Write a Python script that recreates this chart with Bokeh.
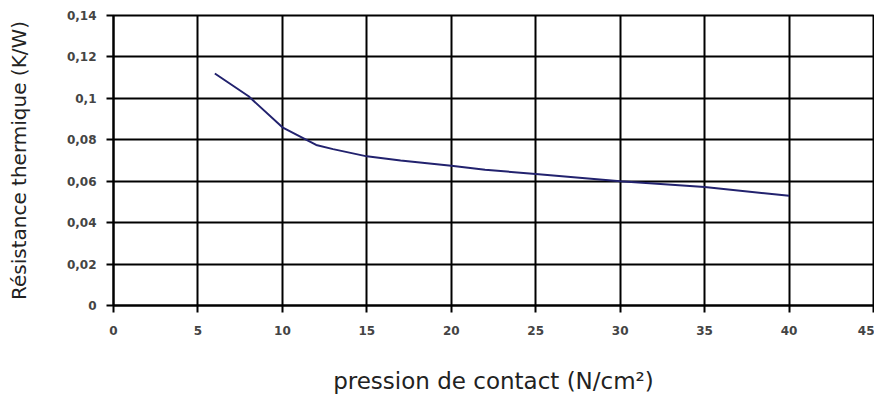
from bokeh.plotting import figure
from bokeh.embed import file_html
from bokeh.resources import INLINE
from bokeh.models import FixedTicker, CustomJSTickFormatter, Range1d

pression = [6, 8, 10, 12, 13, 15, 17, 20, 22, 25, 30, 35, 40]
resistance = [0.112, 0.101, 0.086, 0.0775, 0.0755, 0.0720, 0.0700, 0.0675, 0.0655, 0.0635, 0.0600, 0.0572, 0.0530]
x_ticks = [0, 5, 10, 15, 20, 25, 30, 35, 40, 45]
y_ticks = [0, 0.02, 0.04, 0.06, 0.08, 0.10, 0.12, 0.14]

p = figure(width=874, height=396, output_backend="svg", toolbar_location=None,
           x_range=Range1d(0, 45), y_range=Range1d(0, 0.14),
           min_border_left=113, min_border_right=1, min_border_top=15, min_border_bottom=89)

p.line(pression, resistance, line_color="#22226e", line_width=2)

fmt = CustomJSTickFormatter(code="return String(Math.round(tick*100)/100).replace('.', ',');")
for ax, ticks in ((p.xaxis, x_ticks), (p.yaxis, y_ticks)):
    ax.ticker = FixedTicker(ticks=ticks)
    ax.formatter = fmt
    ax.major_tick_in = 0
    ax.major_tick_out = 7
    ax.minor_tick_line_color = None
    ax.major_tick_line_color = "black"
    ax.major_tick_line_width = 2
    ax.axis_line_color = "black"
    ax.axis_line_width = 2
    ax.major_label_text_font = "DejaVu Sans"
    ax.major_label_text_font_style = "bold"
    ax.major_label_text_font_size = "12px"
    ax.major_label_text_color = "#444444"
    ax.axis_label_text_font = "DejaVu Sans"
    ax.axis_label_text_font_style = "normal"
    ax.axis_label_text_color = "#222222"

p.xaxis.axis_label_text_font_size = "23px"
p.yaxis.axis_label_text_font_size = "20px"
p.xaxis.major_label_standoff = 13
p.yaxis.major_label_standoff = 10
p.xaxis.axis_label = "pression de contact (N/cm²)"
p.yaxis.axis_label = "Résistance thermique (K/W)"
p.xaxis.axis_label_standoff = 30
p.yaxis.axis_label_standoff = 33

for g, ticks in ((p.xgrid, x_ticks), (p.ygrid, y_ticks)):
    g.ticker = FixedTicker(ticks=ticks)
    g.grid_line_color = "black"
    g.grid_line_width = 2
    g.grid_line_alpha = 1

p.outline_line_color = "black"
p.outline_line_width = 2
p.outline_line_alpha = 1
p.background_fill_color = "white"
p.border_fill_color = "white"

open("out.html", "w").write(file_html(p, INLINE))
